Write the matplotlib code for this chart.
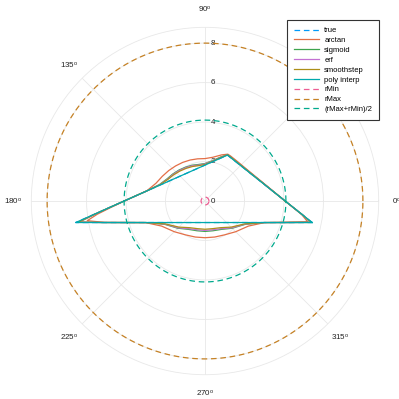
import numpy as np
import matplotlib
matplotlib.use("Agg")
import matplotlib.pyplot as plt
import matplotlib.transforms as mtransforms

plt.rcParams["font.family"] = ["Liberation Sans", "DejaVu Sans"]
plt.rcParams["mathtext.default"] = "regular"

# ----------------------------------------------------------------------
# data (angles in degrees, radii in plot units)
# ----------------------------------------------------------------------

# triangle corners, closed
vert_theta = [348.65, 63.93, 189.45, 348.65]
vert_r = [5.54, 2.59, 6.64, 5.54]

curve_theta = [0, 10, 20, 30, 40, 50, 60, 64, 70, 80, 90, 100, 110, 120, 130,
               140, 150, 160, 170, 175, 180, 184, 187, 189.5, 192, 195, 200,
               210, 225, 240, 255, 270, 285, 300, 315, 330, 340, 345, 348.6,
               352, 360]

arctan_r = [4.06, 3.40, 3.00, 2.76, 2.63, 2.59, 2.62, 2.64, 2.49, 2.25, 2.15,
            2.17, 2.21, 2.26, 2.32, 2.40, 2.50, 2.64, 2.99, 3.44, 4.08, 4.80,
            5.50, 6.05, 5.20, 4.21, 3.20, 2.54, 2.20, 1.98, 1.89, 1.86, 1.89,
            1.98, 2.20, 2.54, 3.20, 4.15, 5.30, 4.95, 4.06]

sigmoid_r = [4.06, 3.38, 2.98, 2.73, 2.60, 2.55, 2.58, 2.61, 2.38, 2.07, 1.90,
             1.88, 1.93, 1.98, 2.05, 2.13, 2.23, 2.45, 2.98, 3.44, 4.10, 4.87,
             5.66, 6.45, 5.24, 4.21, 3.19, 2.36, 1.95, 1.66, 1.56, 1.54, 1.56,
             1.66, 1.95, 2.36, 3.19, 4.21, 5.45, 4.98, 4.06]

erf_r = [4.06, 3.38, 2.98, 2.73, 2.60, 2.55, 2.58, 2.61, 2.36, 2.05, 1.88,
         1.85, 1.90, 1.95, 2.02, 2.10, 2.20, 2.43, 2.98, 3.44, 4.10, 4.87,
         5.68, 6.48, 5.24, 4.21, 3.19, 2.34, 1.92, 1.62, 1.51, 1.49, 1.51,
         1.62, 1.92, 2.34, 3.19, 4.21, 5.47, 4.98, 4.06]

smoothstep_r = [4.06, 3.38, 2.98, 2.73, 2.60, 2.55, 2.58, 2.61, 2.35, 2.03,
                1.85, 1.82, 1.86, 1.91, 1.98, 2.07, 2.18, 2.42, 2.98, 3.44,
                4.10, 4.87, 5.69, 6.52, 5.24, 4.21, 3.19, 2.32, 1.87, 1.56,
                1.45, 1.43, 1.45, 1.56, 1.87, 2.32, 3.19, 4.21, 5.50, 4.98,
                4.06]

r_min = 0.2
r_max = 8.0
r_outer = 8.8

r_ticks = [0, 2, 4, 6, 8]
angle_ticks = [0, 45, 90, 135, 180, 225, 270, 315]
hidden_angle = 45   # sits under the legend in the reference

colors = {
    "true": "#009AFA",
    "arctan": "#E36F47",
    "sigmoid": "#3EA44E",
    "erf": "#C371D2",
    "smoothstep": "#AC8E18",
    "poly interp": "#00A9AD",
    "rMin": "#ED5E93",
    "rMax": "#C68225",
    "(rMax+rMin)/2": "#00A98D",
}

# ----------------------------------------------------------------------
# figure
# ----------------------------------------------------------------------

fig = plt.figure(figsize = (3.99, 3.99), dpi = 100)
ax = fig.add_axes([0.0785, 0.0609, 0.8706, 0.8706], projection = "polar")

rad = np.deg2rad
lw = 0.9
dash = (4.5, 3)

ax.plot(rad(vert_theta), vert_r, color = colors["true"], lw = lw,
        dashes = dash, label = "true")
ax.plot(rad(curve_theta), arctan_r, color = colors["arctan"], lw = lw, label = "arctan")
ax.plot(rad(curve_theta), sigmoid_r, color = colors["sigmoid"], lw = lw, label = "sigmoid")
ax.plot(rad(curve_theta), erf_r, color = colors["erf"], lw = lw, label = "erf")
ax.plot(rad(curve_theta), smoothstep_r, color = colors["smoothstep"], lw = lw,
        label = "smoothstep")
ax.plot(rad(vert_theta), vert_r, color = colors["poly interp"], lw = lw,
        label = "poly interp")

circle = np.linspace(0, 2 * np.pi, 361)
for name, r in [("rMin", r_min), ("rMax", r_max), ("(rMax+rMin)/2", (r_max + r_min) / 2)]:
    ax.plot(circle, np.full_like(circle, r), color = colors[name], lw = lw,
            dashes = dash, label = name)

ax.set_ylim(0, r_outer)
ax.set_rlabel_position(90)
ax.set_yticks(r_ticks)
ax.set_yticklabels([str(t) for t in r_ticks], fontsize = 5.8, color = "#222222")

# radial labels sit just right of the 90 degree spoke, centred on their circle
shift = mtransforms.ScaledTranslation(4.3 / 72, 0, fig.dpi_scale_trans)
for lab in ax.get_yticklabels():
    lab.set_transform(lab.get_transform() + shift)
    lab.set_verticalalignment("center")
    lab.set_horizontalalignment("left")

ax.set_xticks(rad(angle_ticks))
ax.set_xticklabels(["" if a == hidden_angle else f"{a}$^o$" for a in angle_ticks],
                   fontsize = 5.8, color = "#222222")
ax.tick_params(axis = "x", pad = 2.5)

ax.grid(color = "#e8e8e8", lw = 0.6)
ax.spines["polar"].set_color("#e8e8e8")
ax.spines["polar"].set_linewidth(0.6)

leg = ax.legend(loc = "upper right", bbox_to_anchor = (379 / 399, 1 - 20 / 399),
                bbox_transform = fig.transFigure, fontsize = 5.5, fancybox = False,
                framealpha = 1, edgecolor = "#333333", handlelength = 3.3,
                handletextpad = 0.7, labelspacing = 0.33, borderpad = 0.9,
                borderaxespad = 0)
leg.get_frame().set_linewidth(0.8)

fig.savefig("out.png", dpi = 100)
